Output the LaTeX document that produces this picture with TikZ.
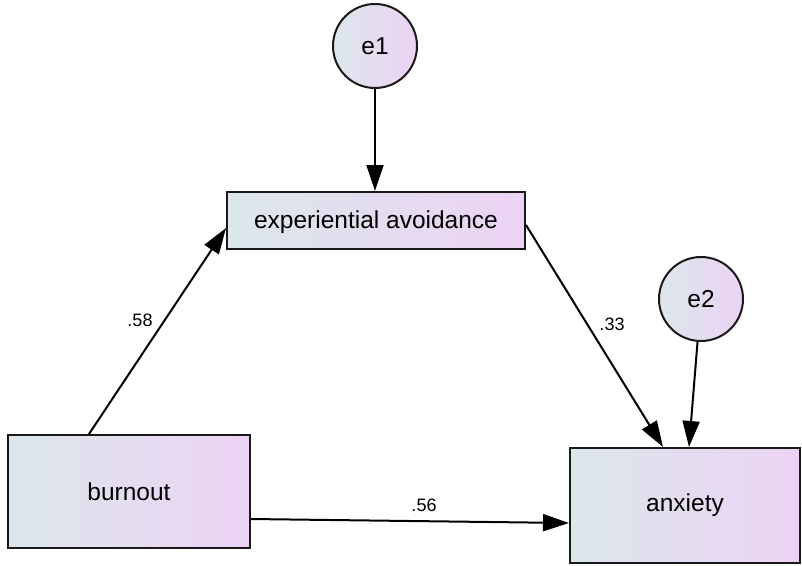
\documentclass[tikz,border=0pt]{standalone}
\usepackage{fontspec}
\setmainfont{Liberation Sans}
\usetikzlibrary{arrows.meta}

\definecolor{shadel}{RGB}{220,231,235}
\definecolor{shader}{RGB}{236,211,244}

\tikzset{
  var/.style={draw=black!90, line width=2pt, left color=shadel, right color=shader,
    font=\fontsize{24.5}{28}\selectfont, inner sep=0pt},
  obs/.style={var, rectangle},
  err/.style={var, circle, minimum size=84pt},
  path/.style={line width=2pt, arrows={-Triangle[length=26pt,width=17pt]}},
  coef/.style={font=\fontsize{18}{22}\selectfont}
}

\begin{document}
\begin{tikzpicture}[x=1pt, y=-1pt]
\useasboundingbox (0,0) rectangle (802,565);

\node (e1) [err] at (375,46) {e1};
\node (e2) [err] at (701,299) {e2};
\node (ea) [obs, minimum width=298pt, minimum height=57pt, text depth=2pt] at (376,220.5) {experiential avoidance};
\node (bo) [obs, minimum width=242pt, minimum height=113pt] at (129,491.5) {burnout};
\node (ax) [obs, minimum width=230pt, minimum height=115pt] at (685,505.5) {anxiety};

\draw [path] (e1) -- (e1 |- ea.north);
\draw [path] ([xshift=82pt]bo.north west) -- ([yshift=-7.5pt]ea.west);
\draw [path] ([yshift=-4.5pt]ea.east) -- ([xshift=94pt]ax.north west);
\draw [path] (e2) -- ([xshift=120pt]ax.north west);
\draw [path] ([yshift=-27.5pt]bo.east) -- ([yshift=-17.5pt]ax.west);

\node (c1) [coef] at (140,320) {.58};
\node (c2) [coef] at (612,324) {.33};
\node (c3) [coef] at (424,505) {.56};
\end{tikzpicture}
\end{document}
